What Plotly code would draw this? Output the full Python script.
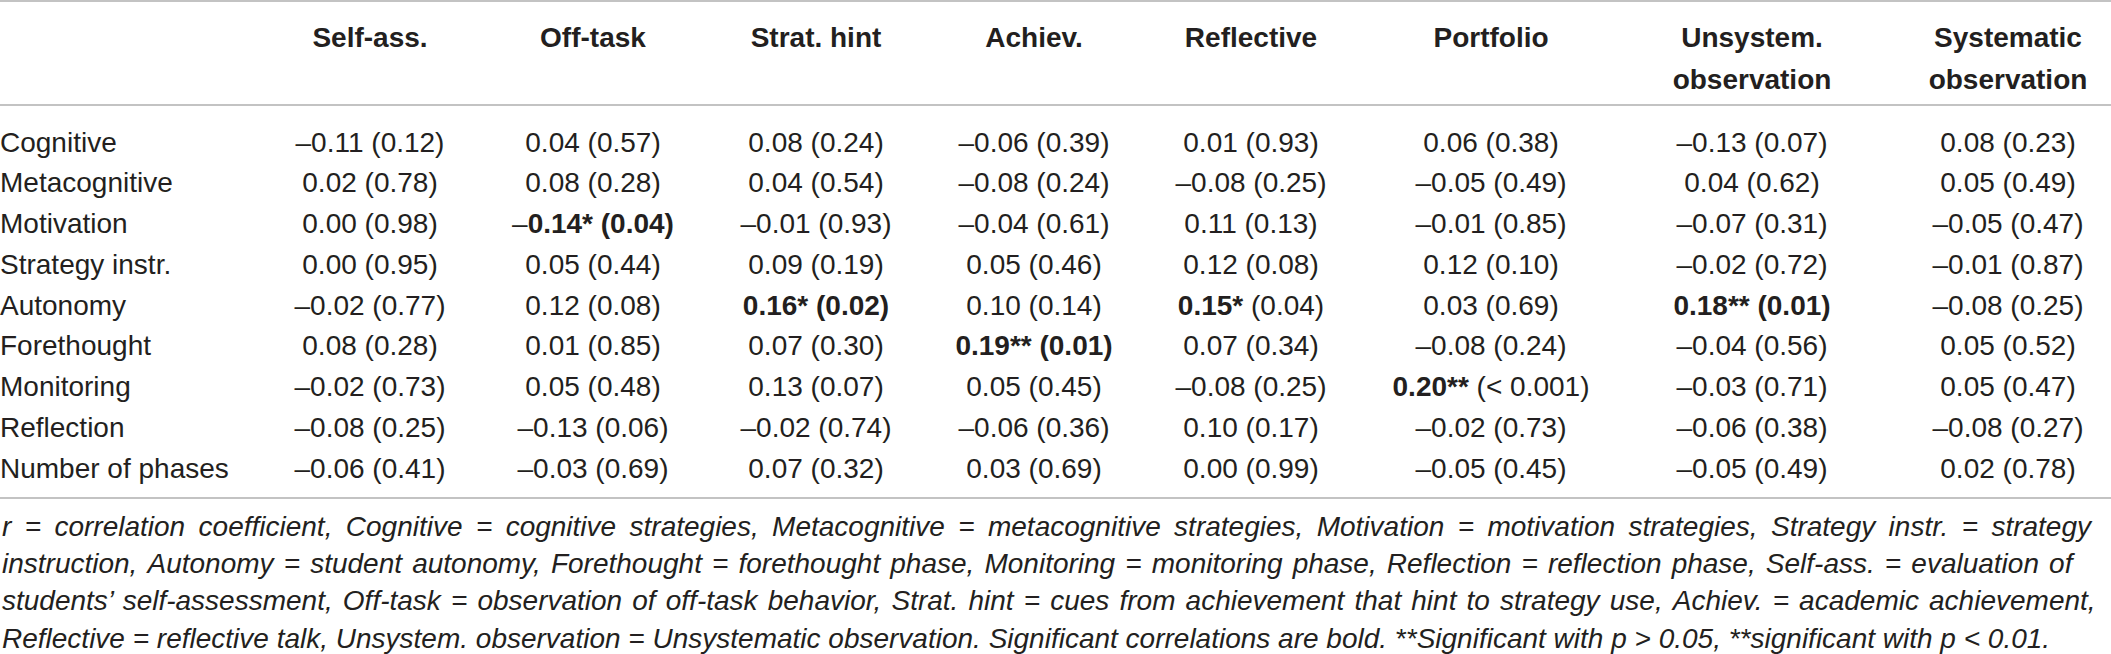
import plotly.graph_objects as go

# table content
rows = ["Cognitive", "Metacognitive", "Motivation", "Strategy instr.", "Autonomy",
        "Forethought", "Monitoring", "Reflection", "Number of phases"]
header_top = ["Self-ass.", "Off-task", "Strat. hint", "Achiev.", "Reflective",
              "Portfolio", "Unsystem.", "Systematic"]
header_bottom = ["", "", "", "", "", "", "observation", "observation"]

# correlation coefficients, one list per row (same order as header)
r_values = [
    [-0.11, 0.04, 0.08, -0.06, 0.01, 0.06, -0.13, 0.08],
    [0.02, 0.08, 0.04, -0.08, -0.08, -0.05, 0.04, 0.05],
    [0.00, -0.14, -0.01, -0.04, 0.11, -0.01, -0.07, -0.05],
    [0.00, 0.05, 0.09, 0.05, 0.12, 0.12, -0.02, -0.01],
    [-0.02, 0.12, 0.16, 0.10, 0.15, 0.03, 0.18, -0.08],
    [0.08, 0.01, 0.07, 0.19, 0.07, -0.08, -0.04, 0.05],
    [-0.02, 0.05, 0.13, 0.05, -0.08, 0.20, -0.03, 0.05],
    [-0.08, -0.13, -0.02, -0.06, 0.10, -0.02, -0.06, -0.08],
    [-0.06, -0.03, 0.07, 0.03, 0.00, -0.05, -0.05, 0.02],
]
# p values (0.0 stands for "< 0.001")
p_values = [
    [0.12, 0.57, 0.24, 0.39, 0.93, 0.38, 0.07, 0.23],
    [0.78, 0.28, 0.54, 0.24, 0.25, 0.49, 0.62, 0.49],
    [0.98, 0.04, 0.93, 0.61, 0.13, 0.85, 0.31, 0.47],
    [0.95, 0.44, 0.19, 0.46, 0.08, 0.10, 0.72, 0.87],
    [0.77, 0.08, 0.02, 0.14, 0.04, 0.69, 0.01, 0.25],
    [0.28, 0.85, 0.30, 0.01, 0.34, 0.24, 0.56, 0.52],
    [0.73, 0.48, 0.07, 0.45, 0.25, 0.0, 0.71, 0.47],
    [0.25, 0.06, 0.74, 0.36, 0.17, 0.73, 0.38, 0.27],
    [0.41, 0.69, 0.32, 0.69, 0.99, 0.45, 0.49, 0.78],
]
# significant cells: (row, col) -> (stars, p printed bold too)
significant = {
    (2, 1): ("*", True),
    (4, 2): ("*", True),
    (4, 4): ("*", False),
    (4, 6): ("**", True),
    (5, 3): ("**", True),
    (6, 5): ("**", False),
}

footnote = [
    "r = correlation coefficient, Cognitive = cognitive strategies, Metacognitive = metacognitive strategies, "
    "Motivation = motivation strategies, Strategy instr. = strategy",
    "instruction, Autonomy = student autonomy, Forethought = forethought phase, Monitoring = monitoring phase, "
    "Reflection = reflection phase, Self-ass. = evaluation of",
    "students\u2019 self-assessment, Off-task = observation of off-task behavior, Strat. hint = cues from achievement "
    "that hint to strategy use, Achiev. = academic achievement,",
    "Reflective = reflective talk, Unsystem. observation = Unsystematic observation. Significant correlations are bold. "
    "**Significant with p > 0.05, **significant with p < 0.01.",
]
# extra space glyph added after each blank to fake the justified lines
footnote_pad = ["\u2009", "\u200a", "\u200a", ""]

# layout (pixels)
W, H = 2111, 654
col_x = [370, 593, 816, 1034, 1251, 1491, 1752, 2008]
row0_px, row_step = 144.5, 40.75
FONT = "Liberation Sans, Arial, sans-serif"
INK = "#231f20"
RULE = "#c3c3c3"


def px_to_y(px):
    return (px - row0_px) / row_step


def cell_text(r, p, mark):
    sign = "\u2013" if r < 0 else ""
    r_txt = f"{abs(r):.2f}"
    p_txt = "< 0.001" if p < 0.001 else f"{p:.2f}"
    if mark is None:
        return f"{sign}{r_txt} ({p_txt})"
    stars, bold_p = mark
    if bold_p:
        return f"{sign}<b>{r_txt}{stars} ({p_txt})</b>"
    return f"{sign}<b>{r_txt}{stars}</b> ({p_txt})"


fig = go.Figure()

# row labels
fig.add_trace(go.Scatter(
    x=[0] * len(rows), y=list(range(len(rows))), mode="text",
    text=rows, textposition="middle right",
    textfont=dict(family=FONT, size=28, color=INK)))

# body cells, one trace per column
for j in range(len(header_top)):
    texts = [cell_text(r_values[i][j], p_values[i][j], significant.get((i, j)))
             for i in range(len(rows))]
    fig.add_trace(go.Scatter(
        x=[col_x[j]] * len(rows), y=list(range(len(rows))), mode="text",
        text=texts, textposition="middle center",
        textfont=dict(family=FONT, size=28, color=INK)))

# header, two lines
fig.add_trace(go.Scatter(
    x=col_x, y=[px_to_y(39.5)] * len(col_x), mode="text",
    text=[f"<b>{t}</b>" for t in header_top], textposition="middle center",
    textfont=dict(family=FONT, size=28, color=INK)))
fig.add_trace(go.Scatter(
    x=col_x, y=[px_to_y(81.5)] * len(col_x), mode="text",
    text=[f"<b>{t}</b>" if t else "" for t in header_bottom], textposition="middle center",
    textfont=dict(family=FONT, size=28, color=INK)))

# rules
for py in [1, 105, 498]:
    fig.add_shape(type="line", xref="paper", x0=0, x1=1, yref="y",
                  y0=px_to_y(py), y1=px_to_y(py), line=dict(color=RULE, width=2))

# footnote
for k, line in enumerate(footnote):
    txt = line.replace(" ", " " + footnote_pad[k])
    fig.add_annotation(
        text=f"<i>{txt}</i>", xref="paper", x=0, xanchor="left",
        yref="y", y=px_to_y(526 + 37.4 * k), yanchor="middle",
        showarrow=False, font=dict(family=FONT, size=28, color=INK))

fig.update_xaxes(range=[0, W], visible=False, fixedrange=True)
fig.update_yaxes(range=[px_to_y(H), px_to_y(0)], visible=False, fixedrange=True)
fig.update_layout(
    width=W, height=H, margin=dict(l=0, r=0, t=0, b=0),
    plot_bgcolor="white", paper_bgcolor="white",
    showlegend=False, hovermode=False)

fig.write_html("out.html", config={"displayModeBar": False},
               post_script="document.body.style.margin='0';")
